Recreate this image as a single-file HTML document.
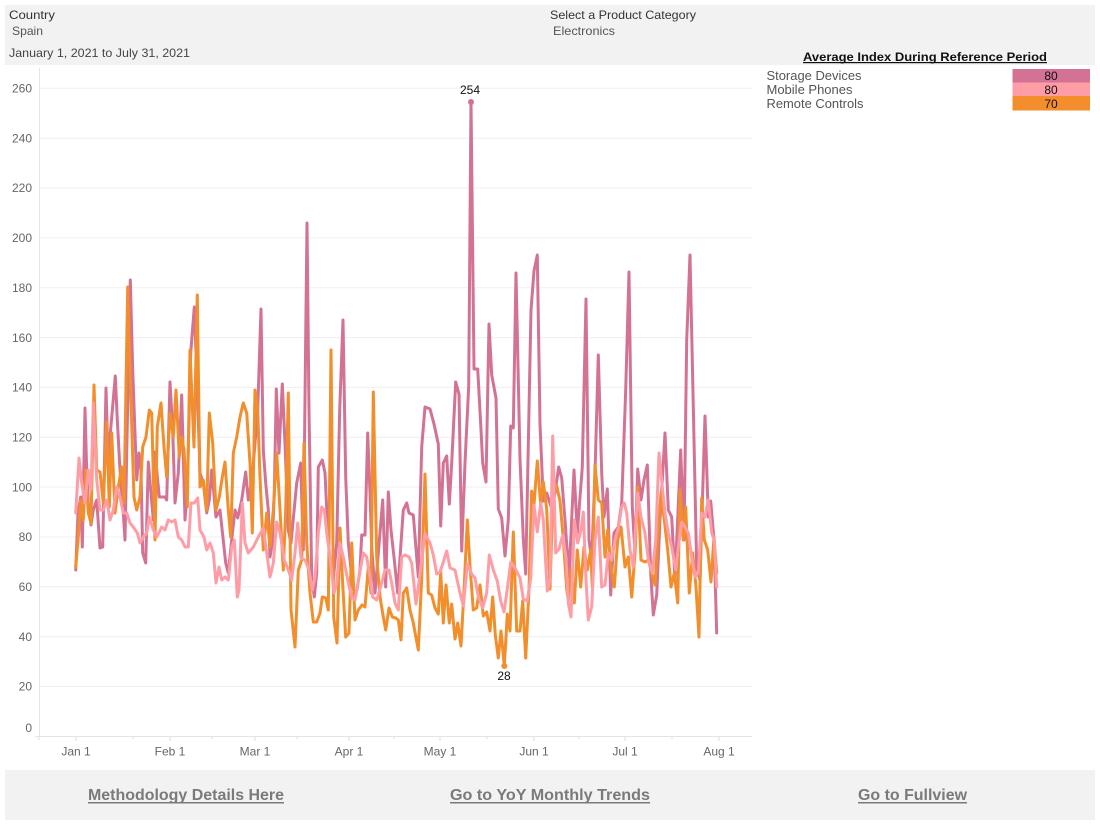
<!DOCTYPE html>
<html><head><meta charset="utf-8"><style>
html,body{margin:0;padding:0;background:#fff;}
svg{display:block;font-family:"Liberation Sans",Arial,sans-serif;}
</style></head><body>
<svg width="1100" height="826" viewBox="0 0 1100 826" xmlns="http://www.w3.org/2000/svg">
<rect x="0" y="0" width="1100" height="826" fill="#fff"/>
<!-- header -->
<rect x="5" y="5" width="1090" height="60" fill="#f2f2f2"/>
<text x="9" y="19" font-size="12" fill="#333" textLength="46" lengthAdjust="spacingAndGlyphs">Country</text>
<text x="12" y="35" font-size="12" fill="#555" textLength="31" lengthAdjust="spacingAndGlyphs">Spain</text>
<text x="9" y="57" font-size="12" fill="#444" textLength="181" lengthAdjust="spacingAndGlyphs">January 1, 2021 to July 31, 2021</text>
<text x="550" y="19" font-size="12" fill="#333" textLength="146" lengthAdjust="spacingAndGlyphs">Select a Product Category</text>
<text x="553" y="35" font-size="12" fill="#555" textLength="62" lengthAdjust="spacingAndGlyphs">Electronics</text>
<!-- legend -->
<text x="803" y="61" font-size="12" font-weight="bold" fill="#111" textLength="244" lengthAdjust="spacingAndGlyphs">Average Index During Reference Period</text>
<rect x="803" y="62" width="244" height="1.2" fill="#111"/>
<text x="766.5" y="80" font-size="13" fill="#555" textLength="95" lengthAdjust="spacingAndGlyphs">Storage Devices</text>
<text x="766.5" y="94" font-size="13" fill="#555" textLength="86" lengthAdjust="spacingAndGlyphs">Mobile Phones</text>
<text x="766.5" y="108" font-size="13" fill="#555" textLength="97" lengthAdjust="spacingAndGlyphs">Remote Controls</text>
<rect x="1012.5" y="69" width="77.5" height="13.5" fill="#d37295"/>
<rect x="1012.5" y="82.5" width="77.5" height="13.5" fill="#ff9da7"/>
<rect x="1012.5" y="96" width="77.5" height="14.5" fill="#f28e2b"/>
<text x="1051" y="80" font-size="12" fill="#111" text-anchor="middle">80</text>
<text x="1051" y="94" font-size="12" fill="#111" text-anchor="middle">80</text>
<text x="1051" y="108" font-size="12" fill="#111" text-anchor="middle">70</text>

<!-- gridlines -->
<g stroke="#efefef" stroke-width="1">
<line x1="39" y1="88.3" x2="752" y2="88.3"/>
<line x1="39" y1="138.2" x2="752" y2="138.2"/>
<line x1="39" y1="188.0" x2="752" y2="188.0"/>
<line x1="39" y1="237.9" x2="752" y2="237.9"/>
<line x1="39" y1="287.7" x2="752" y2="287.7"/>
<line x1="39" y1="337.6" x2="752" y2="337.6"/>
<line x1="39" y1="387.4" x2="752" y2="387.4"/>
<line x1="39" y1="437.3" x2="752" y2="437.3"/>
<line x1="39" y1="487.1" x2="752" y2="487.1"/>
<line x1="39" y1="537.0" x2="752" y2="537.0"/>
<line x1="39" y1="586.8" x2="752" y2="586.8"/>
<line x1="39" y1="636.7" x2="752" y2="636.7"/>
<line x1="39" y1="686.5" x2="752" y2="686.5"/>
</g>
<line x1="39.5" y1="68" x2="39.5" y2="737" stroke="#e4e4e4" stroke-width="1"/>
<line x1="35" y1="736.5" x2="752" y2="736.5" stroke="#e4e4e4" stroke-width="1"/>
<!-- y labels -->
<g font-size="12" fill="#666" text-anchor="end">
<text x="32" y="92.5">260</text>
<text x="32" y="142.4">240</text>
<text x="32" y="192.2">220</text>
<text x="32" y="242.1">200</text>
<text x="32" y="291.9">180</text>
<text x="32" y="341.8">160</text>
<text x="32" y="391.6">140</text>
<text x="32" y="441.5">120</text>
<text x="32" y="491.3">100</text>
<text x="32" y="541.2">80</text>
<text x="32" y="591.0">60</text>
<text x="32" y="640.9">40</text>
<text x="32" y="690.7">20</text>
<text x="32" y="732">0</text>
</g>
<!-- x ticks -->
<g stroke="#dcdcdc" stroke-width="1">
<line x1="76" y1="737" x2="76" y2="741"/>
<line x1="170" y1="737" x2="170" y2="741"/>
<line x1="255" y1="737" x2="255" y2="741"/>
<line x1="349" y1="737" x2="349" y2="741"/>
<line x1="440" y1="737" x2="440" y2="741"/>
<line x1="534" y1="737" x2="534" y2="741"/>
<line x1="625" y1="737" x2="625" y2="741"/>
<line x1="719" y1="737" x2="719" y2="741"/>
<line x1="39" y1="737" x2="39" y2="740"/>
<line x1="133" y1="737" x2="133" y2="739"/>
<line x1="212" y1="737" x2="212" y2="739"/>
<line x1="297" y1="737" x2="297" y2="739"/>
<line x1="394" y1="737" x2="394" y2="739"/>
<line x1="487" y1="737" x2="487" y2="739"/>
<line x1="579" y1="737" x2="579" y2="739"/>
<line x1="672" y1="737" x2="672" y2="739"/>
</g>
<g font-size="12" fill="#666" text-anchor="middle">
<text x="76" y="755.5">Jan 1</text>
<text x="170" y="755.5">Feb 1</text>
<text x="255" y="755.5">Mar 1</text>
<text x="349" y="755.5">Apr 1</text>
<text x="440" y="755.5">May 1</text>
<text x="534" y="755.5">Jun 1</text>
<text x="625" y="755.5">Jul 1</text>
<text x="719" y="755.5">Aug 1</text>
</g>

<!-- series -->
<g fill="none" stroke-width="3" stroke-linejoin="round" stroke-linecap="round">
<polyline stroke="#d37295" points="75.7,570 78,513 80.7,497 82.3,547 85,408 86.7,470 88.3,503 91,525 93.3,510 96.7,500 100,548 102.7,547 106,388 108.3,467 110,437 115.3,376 117.3,420 120,470 123.3,513 125,540 126.7,453 130.3,280 132.7,370 136.7,480 139,453 141,470 142.7,553 145.7,563 148.3,462 153.3,520 155,452 159.3,497 165,497 166.7,500 170,382 172.7,430 175,503 178.3,473 181.7,395 185,520 187.3,487 190.7,353 194.3,307 197,380 200,473 203.3,483 206.7,513 209.3,500 211.7,470 216,517 220,510 225.7,563 228.3,573 231.7,540 235,510 237.7,518 241.7,500 245.7,472 248.3,500 252,480 257.7,410 261,309 263.3,450 265.7,483 268.3,510 270,557 272.3,543 274.3,493 276.3,389 279,453 282.3,384 285,443 288.3,530 291,543 296.7,483 300.7,463 303.3,550 307,223 309,410 311.7,577 314.3,597 316.7,573 318.3,467 322.3,460 325,473 327.7,530 330,563 333.3,580 336.7,543 339.7,410 343,320 345.7,477 348.3,543 351.7,577 354.3,593 357,590 360,570 361.7,535 365,535 367.7,433 370,493 371.7,547 375,593 382.7,500 385.7,587 388.3,492 391,530 394.3,560 397.7,593 401,543 403.3,510 406.7,503 409,513 413.3,515 418.3,577 421.7,447 425,407 430,409 434,424 438.3,444 440.7,526 443.3,463 446.7,456 449.3,504 451.7,463 455.7,382 459,394 461.7,551 465,463 468.7,386 471,102 474,369 477.7,369 480.7,424 482.7,463 486,482 489,324 491.7,375 496,398 498.3,509 501.7,518 505,556 508.3,520 510.7,426 513.3,428 516,273 520,459 523.3,539 525.7,574 531,310 534,271 537.3,255 540,424 543.3,501 546.7,493 551.7,509 555,493 558.7,467 561.7,478 565,520 569,577 574,470 577.3,533 582.3,467 586,299 589,540 591.7,560 595,473 598.3,355 601.7,473 604,517 607.3,489 610.7,595 614,533 618.3,527 621.7,503 625.7,390 629,272 632.3,507 635,553 637.7,469 641,500 644,480 647.3,465 650.7,573 653.3,615 656.7,595 660,520 665,433 668.3,510 671.7,517 675,580 680.7,450 684,540 686.7,340 690,255 693.3,407 696.7,567 700,580 705,416 708.3,517 710.7,501 714,540 716.7,633"/>
<polyline stroke="#f28e2b" points="75.7,567 78.3,537 80.7,500 83.3,520 85.7,470 88.3,513 91,523 94,385 96.7,470 100,472 103.3,503 106.7,422 109.3,507 111.7,433 115,513 118.3,487 121.7,467 124,503 127.7,287 130,370 132.7,457 134,497 136.7,510 140,497 142.7,447 146,437 149.3,410 151.7,413 155,540 157.3,427 161,403 164,447 166.7,477 170,413 173.3,437 176,390 179.3,457 181.7,437 184,450 187.3,507 190,350 194,447 197.3,295 200,487 203.3,480 206.7,510 209.3,413 212.7,443 216,510 219.3,497 222.3,477 225,462 228.3,510 230.7,537 233.3,453 236.7,437 240,417 243.3,403 246.7,413 250,463 252.3,533 255,390 257.7,410 260,477 263.3,550 266.7,513 270,547 273.3,510 276.7,453 280,510 283.3,570 285.7,510 288.3,393 291,610 295,647 298.3,570 301.7,560 304,443 306.7,543 310,593 313.3,622 316.7,622 320,613 322.3,597 325.7,598 328.3,610 331,350 333.7,617 337,643 340,528 342.3,577 345.7,637 349,633 351.7,543 355,620 358.3,610 362,605 365,607 368.3,567 371,593 373.3,392 376.7,557 380,597 383.3,617 385.7,630 389,608 392.3,617 395.7,618 398.3,620 401,640 403.3,593 406.7,588 410,610 413.3,623 418.3,650 421.7,578 425,474 428.3,593 431.7,595 435,608 438.3,614 440.7,572 443.3,623 446,585 449.3,623 451.7,604 455,639 457.7,623 461,646 464.3,585 467.3,520 470,566 473.3,610 476.7,608 480,585 483.3,616 486.7,612 490,631 492.7,597 495.3,635 498.3,658 501,631 504.3,666 507.3,614 510,631 513.3,532 516.7,631 520,631 522.7,601 525.7,658 529,589 531.7,491 534,505 537.3,461 540.7,505 543.3,482 546.7,509 550,589 553.3,482 556.7,486 560,501 563.3,539 566.7,589 568.3,600 571,570 574.3,603 577.3,550 580.7,587 584,547 587.3,570 590.7,550 592.3,587 595,465 598.3,500 601.7,503 605,557 607.7,530 611,567 614.3,587 617.7,540 621,527 625,567 628.3,557 631.7,597 635,553 637.7,487 641,560 645,562 648.3,560 651.7,573 655,585 657.7,540 661,493 664.3,520 667.7,550 671,587 674.3,573 677.7,603 680,490 683.3,540 685.7,507 689.3,593 692.7,553 696,587 699,637 701.7,498 704.3,540 707.7,550 711,582 714,537 716.7,573"/>
<polyline stroke="#ff9da7" points="75.7,513 79,458 81.7,483 85,503 88.3,470 91,490 93.3,403 96.7,480 100,510 103.3,510 106.7,500 110,520 113.3,510 116.7,487 120,497 123.3,513 126.7,513 130,523 133.3,527 137.3,533 140,543 143.3,537 146.7,533 149.3,517 153.3,530 156.7,537 161.7,527 165,530 168.3,520 171.7,522 175,520 178.3,537 181.7,540 185,547 188.3,547 191,503 194.3,503 197.7,498 200,530 204,537 206.7,550 210,543 213.3,553 216,583 219,567 221.7,580 225,577 228.3,580 231.7,547 234.3,540 237.3,597 239,590 242.3,503 245,543 248.3,553 253.3,547 258.3,537 263.3,528 266.7,553 270,577 273.3,563 276.7,522 280,533 284.3,560 288.3,570 291.7,580 295,553 297.7,523 301,558 305,560 309,570 312.3,590 315,577 318.3,533 321.7,507 324.3,510 326.7,533 330,557 334,593 336.7,583 340,543 343.3,557 348.3,583 351.7,597 355,600 359,577 363.3,553 366.7,557 370,577 372.7,597 376.7,600 381.7,583 385,570 389,570 391.7,583 395,603 398.3,610 401.7,557 405,555 409,557 411.7,563 416,604 420,574 425,534 430,543 433.3,555 436.7,574 440,572 443.3,562 446.7,551 450,568 455,570 460,593 463.3,606 467.3,564 471.7,574 475,578 478.3,597 482.7,608 486.7,593 489.3,555 493.3,570 497.3,581 500.7,601 504,612 507.3,589 510.7,562 515,568 520,578 523.3,599 527.3,601 530.7,578 534,505 537.3,532 540.7,503 543.3,520 547.3,591 550,581 552.7,436 555.7,553 559,549 562.7,535 566,558 568.3,603 571,617 574.3,520 577.7,543 581,530 583.3,512 586,580 588.3,620 591.7,607 595,540 598.3,517 601.7,587 605,585 608.3,553 611.7,560 615,540 618.3,528 621.7,507 624.3,503 626.7,513 630,550 633.3,567 637.7,493 641,517 645,533 648.3,560 652.3,573 655.7,540 659,453 662.3,487 665,513 668.3,533 671.7,547 675.7,570 678.3,547 681.7,522 685,527 688.3,533 691.7,557 695,577 698.3,573 701.7,513 705,517 708.3,500 711.7,533 714.3,540 716.7,587"/>
</g>
<!-- annotations -->
<circle cx="471" cy="102" r="3" fill="#d37295"/>
<text x="470" y="94" font-size="12" fill="#111" text-anchor="middle">254</text>
<circle cx="504.3" cy="666" r="3" fill="#f28e2b"/>
<text x="504" y="680" font-size="12" fill="#111" text-anchor="middle">28</text>

<!-- footer -->
<rect x="5" y="770" width="1090" height="50" fill="#f2f2f2"/>
<g font-size="16" font-weight="bold" fill="#7a7a7a">
<text x="88" y="800" textLength="196" lengthAdjust="spacingAndGlyphs">Methodology Details Here</text>
<text x="450" y="800" textLength="200" lengthAdjust="spacingAndGlyphs">Go to YoY Monthly Trends</text>
<text x="858" y="800" textLength="109" lengthAdjust="spacingAndGlyphs">Go to Fullview</text>
</g>
<g fill="#7a7a7a">
<rect x="88" y="802" width="196" height="1.5"/>
<rect x="450" y="802" width="200" height="1.5"/>
<rect x="858" y="802" width="109" height="1.5"/>
</g>
</svg>
</body></html>
